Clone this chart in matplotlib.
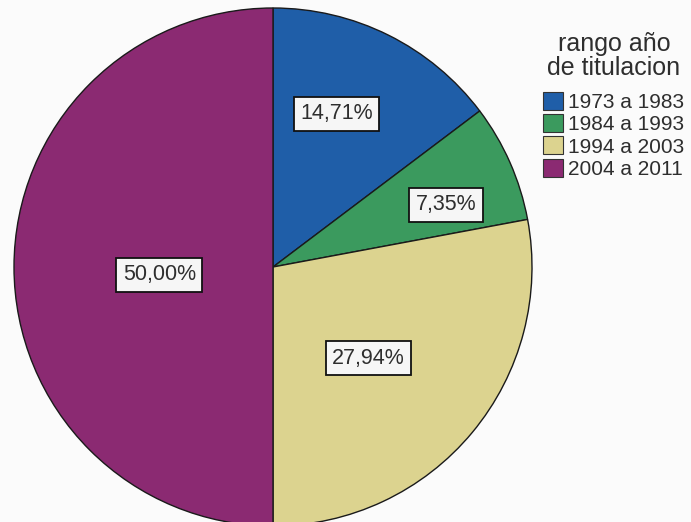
import numpy as np
import matplotlib.pyplot as plt
from matplotlib.patches import Patch

plt.rcParams['font.family'] = ['Liberation Sans', 'DejaVu Sans']

# rangos de año de titulación y su porcentaje
rangos = ['1973 a 1983', '1984 a 1993', '1994 a 2003', '2004 a 2011']
porcentajes = [14.71, 7.35, 27.94, 50.00]
colores = ['#1f5ea8', '#3b9a5e', '#dcd38f', '#8b2a72']

# ubicación de cada etiqueta: fracción del radio y giro en grados
dist_etiqueta = [0.64, 0.71, 0.51, 0.44]
giro_etiqueta = [4.0, -4.0, -4.0, 4.0]

W, H = 691, 522
fig = plt.figure(figsize=(W / 100, H / 100), dpi=100)
fig.patch.set_facecolor('#fbfbfb')
ax = fig.add_axes([0, 0, 1, 1])

cx, cy, radio = 273, 255, 259
wedges, _ = ax.pie(porcentajes, colors=colores, startangle=90, counterclock=False,
                   center=(cx, cy), radius=radio, frame=True,
                   wedgeprops=dict(edgecolor='#1a1a1a', linewidth=1.0))
ax.set_xlim(0, W)
ax.set_ylim(0, H)
ax.set_aspect('equal')
ax.axis('off')

for w, p, d, g in zip(wedges, porcentajes, dist_etiqueta, giro_etiqueta):
    ang = np.deg2rad((w.theta1 + w.theta2) / 2 + g)
    x = cx + d * radio * np.cos(ang)
    y = cy + d * radio * np.sin(ang)
    ax.text(x, y, f'{p:.2f}%'.replace('.', ','), ha='center', va='center',
            fontsize=15.5, color='#2e2e2e',
            bbox=dict(boxstyle='square,pad=0.3', facecolor='#f6f6f6',
                      edgecolor='#111111', linewidth=1.3))

# título de la leyenda y entradas
fig.text(614 / W, 1 - 56 / H, 'rango año\nde titulacion', ha='center', va='center',
         fontsize=18, color='#2e2e2e', linespacing=1.0)

handles = [Patch(facecolor=c, edgecolor='#333333', linewidth=0.8) for c in colores]
leg = fig.legend(handles, rangos, loc='upper left',
                 bbox_to_anchor=(543 / W, 1 - 92 / H), frameon=False,
                 fontsize=15, handlelength=0.95, handleheight=0.95,
                 handletextpad=0.25, labelspacing=0.1,
                 borderpad=0, borderaxespad=0)
for t in leg.get_texts():
    t.set_color('#2e2e2e')

fig.savefig('out.png', dpi=100, facecolor=fig.get_facecolor())
